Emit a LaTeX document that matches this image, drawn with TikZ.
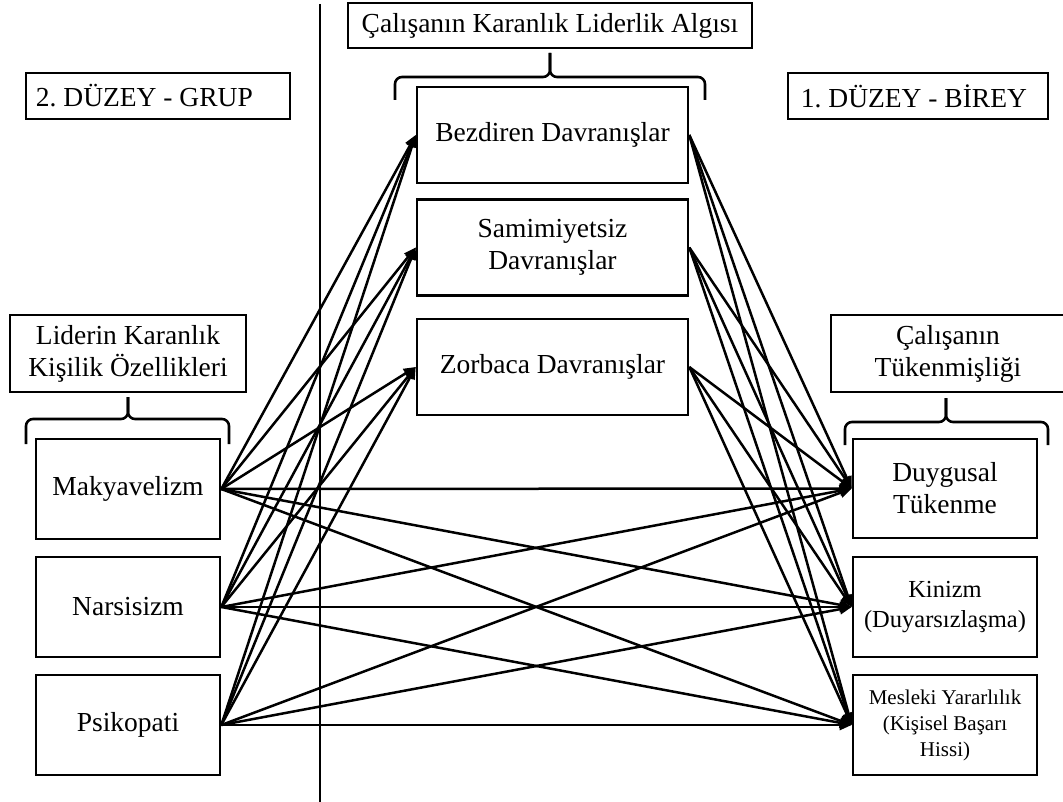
\documentclass[tikz,border=0pt]{standalone}
\usepackage{fontspec}
\setmainfont{Liberation Serif}
\usetikzlibrary{arrows.meta}
\begin{document}
\frenchspacing
\begin{tikzpicture}[x=1pt,y=-1pt,
  txt/.style={inner sep=0pt,font=\fontsize{27.5}{32}\selectfont},
  box/.style={txt,draw,line width=2.6pt,align=center},
  sidebox/.style={box,minimum width=184pt,minimum height=100pt},
  midbox/.style={box,minimum width=271pt,minimum height=96pt},
  midtext/.style={font=\fontsize{24.5}{30}\selectfont},
  smalltext/.style={font=\fontsize{21}{26}\selectfont},
  link/.style={line width=2.5pt,-{Triangle[length=12pt,width=10pt]}},
  bracepath/.style={line width=2.6pt,rounded corners=7pt}]
\useasboundingbox (0,0) rectangle (1063,802);

% level labels: frame plus left-set text
\node[box,minimum width=264pt,minimum height=46pt] (grup) at (158,96) {};
\node[txt,anchor=west] (gruptext) at ([xshift=11pt]grup.west) {2. DÜZEY - GRUP};
\node[box,minimum width=260pt,minimum height=46pt] (birey) at (918,96) {};
\node[txt,anchor=west] (bireytext) at ([xshift=14pt]birey.west) {1. DÜZEY - BİREY};

% separator between levels
\coordinate (septop) at (320,4);
\coordinate (sepbot) at (320,802);
\draw[line width=2.6pt] (septop) -- (sepbot);

% group headings
\node[box,minimum width=404pt,minimum height=45pt] (algi) at (550,25.5)
  {Çalışanın Karanlık Liderlik Algısı};
\node[box,minimum width=236pt,minimum height=77pt] (kisilik) at (128,353.5)
  {Liderin Karanlık\\Kişilik Özellikleri};
\node[box,minimum width=234pt,minimum height=77pt] (tukenmis) at (948,353.5)
  {Çalışanın\\Tükenmişliği};

% braces under the headings
\coordinate (bm) at (550,53);
\draw[bracepath] (395,100) |- (550,77) -- (bm);
\draw[bracepath] (705,100) |- (550,77) -- (bm);
\coordinate (bl) at (128,397);
\draw[bracepath] (26,444) |- (128,419) -- (bl);
\draw[bracepath] (229,444) |- (128,419) -- (bl);
\coordinate (br) at (946,398);
\draw[bracepath] (845,445) |- (946,422) -- (br);
\draw[bracepath] (1048,445) |- (946,422) -- (br);

% leader traits
\node[sidebox] (mak) at (128,489) {Makyavelizm};
\node[sidebox] (nar) at (128,607) {Narsisizm};
\node[sidebox] (psi) at (128,725) {Psikopati};

% perceived dark leadership
\node[midbox] (bez) at (552.5,135) {Bezdiren Davranışlar};
\node[midbox] (sam) at (552.5,247.5) {Samimiyetsiz\\Davranışlar};
\node[midbox] (zor) at (552.5,367) {Zorbaca Davranışlar};

% burnout dimensions
\node[sidebox,minimum height=99pt] (duy) at (945,488.5) {Duygusal\\Tükenme};
\node[sidebox,midtext] (kin) at (945,607) {Kinizm\\(Duyarsızlaşma)};
\node[sidebox,smalltext] (mes) at (945,725)
  {Mesleki Yararlılık\\(Kişisel Başarı\\Hissi)};

% paths
\foreach \s in {mak,nar,psi}{
  \foreach \t in {bez,sam,zor,duy,kin,mes}{
    \draw[link] (\s.east) -- (\t.west);
  }
}
\foreach \s in {bez,sam,zor}{
  \foreach \t in {duy,kin,mes}{
    \draw[link] (\s.east) -- (\t.west);
  }
}
\end{tikzpicture}
\end{document}
